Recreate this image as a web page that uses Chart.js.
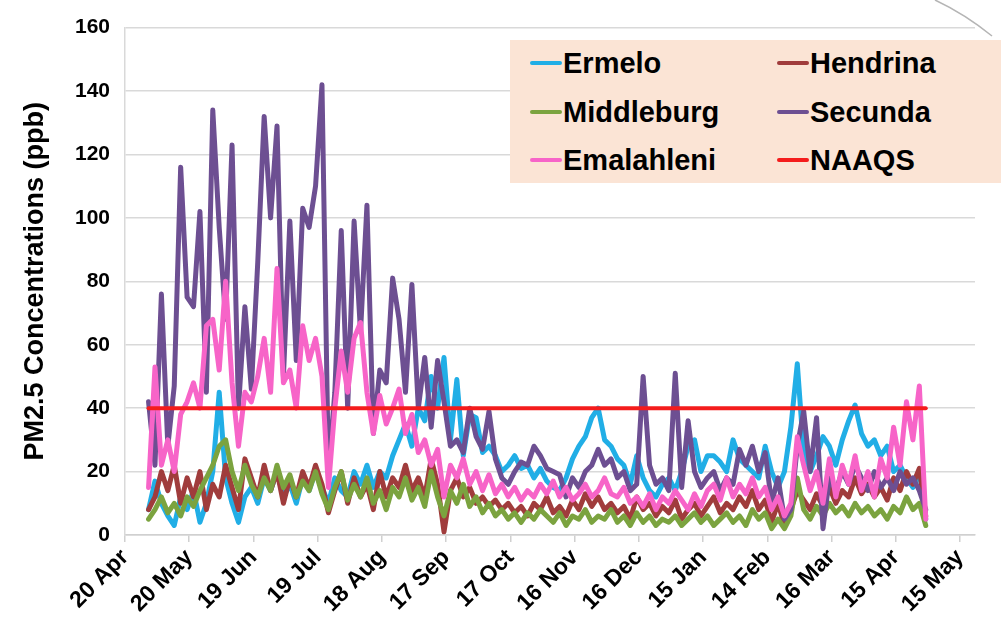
<!DOCTYPE html>
<html>
<head>
<meta charset="utf-8">
<script src="https://cdn.jsdelivr.net/npm/chart.js@4.4.1/dist/chart.umd.min.js"></script>
<style>
  html, body { margin: 0; padding: 0; background: #fff; }
  #wrap { position: relative; width: 1001px; height: 629px; overflow: hidden; }
  #chart { position: absolute; left: 0; top: 0; }
  #legend {
    position: absolute; left: 510px; top: 40px; width: 491px; height: 143px;
    background: #fbe4d5; color: #000;
    font: bold 29px "Liberation Sans", Arial, sans-serif;
  }
  .item { position: absolute; display: flex; align-items: center; height: 40px; white-space: nowrap; }
  .swatch { display: inline-block; width: 32px; height: 4px; margin-right: 1px; border-radius: 2px; }
  #corner { position: absolute; left: 0; top: 0; pointer-events: none; }
</style>
</head>
<body>
<div id="wrap">
  <canvas id="chart" width="1001" height="629"></canvas>
  <div id="legend"></div>
  <svg id="corner" width="1001" height="629"><path d="M935 0 Q965 14 992 36" fill="none" stroke="#b5b5b5" stroke-width="1.5"/></svg>
</div>
<script>
// x axis: days counted from 20 Apr, one labelled tick every 30 days
const tickDays = [0, 30, 60, 90, 120, 150, 180, 210, 240, 270, 300, 330, 360, 390];
const tickLabels = ['20 Apr', '20 May', '19 Jun', '19 Jul', '18 Aug', '17 Sep', '17 Oct',
                    '16 Nov', '16 Dec', '15 Jan', '14 Feb', '16 Mar', '15 Apr', '15 May'];

// readings start on 1 May (day 11) and are listed every 3 days
const startDay = 11;
const stepDays = 3;

// PM2.5 concentrations (ppb) per station
const ermelo = [
  8, 17, 10, 6, 3, 12, 8, 14, 4, 10,
  20, 45, 18, 10, 4, 12, 15, 10, 18, 14,
  20, 12, 16, 10, 18, 14, 20, 15, 10, 18,
  14, 12, 20, 16, 22, 15, 20, 18, 25, 30,
  35, 28, 40, 36, 50, 40, 56, 30, 49, 25,
  38, 37, 26, 28, 25, 20, 22, 25, 21, 22,
  18, 21, 17, 15, 14, 18, 24, 28, 31, 37,
  40, 30, 28, 24, 22, 16, 25, 18, 14, 12,
  16, 18, 14, 20, 28, 30, 20, 25, 25, 23,
  20, 30, 24, 22, 20, 18, 28, 20, 15, 20,
  34, 54, 26, 20, 25, 31, 28, 22, 30, 36,
  41, 32, 28, 30, 25, 28, 20, 22, 18, 15,
  20, 5
];
const hendrina = [
  8, 12, 20, 14, 22, 10, 18, 12, 20, 8,
  16, 12, 22, 15, 8, 24, 18, 12, 22, 14,
  20, 10, 18, 12, 20, 15, 22, 16, 7, 14,
  20, 10, 18, 12, 16, 8, 20, 12, 18, 15,
  22, 14, 18, 12, 24, 16, 1, 14, 18, 12,
  15, 10, 12, 9, 11, 8, 10, 7, 9, 6,
  10, 8, 12, 7, 9, 6, 11, 8, 13, 9,
  12, 8, 10, 7, 9, 5, 12, 8, 10, 6,
  9, 7, 11, 5, 8, 10, 6, 9, 12, 7,
  10, 8, 12, 9, 14, 8, 11, 4, 10, 3,
  8, 14, 11, 8, 13, 9, 15, 10, 14, 12,
  18, 13, 16, 12, 15, 11, 18, 14, 20, 16,
  21, 6
];
const middleburg = [
  5, 8, 12, 7, 10, 6, 12, 9, 14, 18,
  22, 28, 30, 20, 14, 22, 16, 12, 18, 14,
  22, 15, 19, 12, 17, 14, 20, 13, 8, 15,
  20, 11, 16, 12, 18, 10, 14, 8, 15, 12,
  18, 11, 15, 9, 20, 12, 6, 14, 10, 16,
  9, 12, 7, 10, 6, 8, 5, 7, 4, 7,
  5, 8, 6, 4, 7, 3, 6, 5, 8, 4,
  6, 5, 8, 4, 6, 3, 7, 4, 6, 3,
  5, 4, 6, 3, 5, 7, 4, 6, 3, 5,
  7, 4, 6, 3, 8, 5, 7, 2, 5, 2,
  6, 18, 8, 5, 9, 6, 10, 7, 9, 6,
  10, 7, 9, 6, 8, 5, 9, 7, 12, 8,
  10, 3
];
const secunda = [
  42, 22, 76, 28, 47, 116, 75, 72, 102, 45,
  134, 97, 68, 123, 40, 72, 46, 86, 132, 100,
  129, 50, 99, 55, 103, 97, 110, 142, 20, 45,
  96, 40, 99, 64, 104, 32, 52, 48, 81, 68,
  45, 79, 40, 56, 34, 55, 42, 28, 30, 26,
  40, 31, 27, 39, 24, 18, 16, 20, 23, 22,
  28, 25, 21, 20, 19, 12, 18, 15, 20, 22,
  27, 22, 24, 18, 20, 14, 16, 50, 22, 16,
  18, 14, 51, 15, 36, 20, 15, 18, 20, 14,
  18, 16, 27, 22, 28, 20, 26, 10, 18, 5,
  8, 28, 39, 20, 37, 2, 18, 14, 20, 16,
  22, 18, 14, 20, 15, 18, 14, 20, 16, 18,
  14, 8
];
const emalahleni = [
  15, 53, 22, 30, 20, 38, 42, 48, 40, 66,
  68, 52, 80, 48, 28, 45, 42, 50, 62, 45,
  84, 48, 52, 40, 66, 55, 62, 50, 15, 40,
  58, 45, 62, 67, 45, 32, 44, 35, 40, 46,
  32, 38, 26, 30, 22, 27, 12, 22, 18, 24,
  16, 20, 14, 19, 13, 16, 12, 15, 11, 14,
  12, 16, 13, 17, 12, 15, 11, 13, 16, 12,
  14, 18, 13, 12, 15, 10, 12, 9, 13, 8,
  12, 10, 14, 11, 8, 13, 9, 14, 16, 11,
  18, 12, 16, 13, 18, 12, 15, 8, 12, 6,
  10, 31, 22, 14, 20, 10, 24, 12, 22, 16,
  25, 14, 20, 12, 24, 18, 34, 22, 42, 30,
  47, 5
];
// national ambient air quality standard
const naaqsLimit = 40;

const FONT = '"Liberation Sans", Arial, sans-serif';

function toPoints(values) {
  return values.map((v, i) => ({ x: startDay + i * stepDays, y: v }));
}
const lastDay = startDay + (secunda.length - 1) * stepDays;

// lower "order" is painted later (on top)
const series = [
  { label: 'Ermelo',     data: toPoints(ermelo),     color: '#21aee6', order: 6, width: 5 },
  { label: 'Hendrina',   data: toPoints(hendrina),   color: '#a03c3c', order: 5, width: 5 },
  { label: 'Middleburg', data: toPoints(middleburg), color: '#7ba33f', order: 4, width: 5 },
  { label: 'Secunda',    data: toPoints(secunda),    color: '#6d4f92', order: 3, width: 5 },
  { label: 'Emalahleni', data: toPoints(emalahleni), color: '#f764c8', order: 2, width: 5 },
  { label: 'NAAQS',      data: [{ x: startDay, y: naaqsLimit }, { x: lastDay, y: naaqsLimit }], color: '#f41c1c', order: 1, width: 4 }
];

new Chart(document.getElementById('chart'), {
  type: 'line',
  data: {
    datasets: series.map(s => ({
      label: s.label, data: s.data, borderColor: s.color, backgroundColor: s.color,
      borderWidth: s.width, order: s.order, fill: false
    }))
  },
  options: {
    responsive: false,
    animation: false,
    devicePixelRatio: 1,
    layout: { padding: { top: 20, right: 26, bottom: 0, left: 0 } },
    plugins: { legend: { display: false }, tooltip: { enabled: false } },
    elements: {
      point: { radius: 0 },
      line: { tension: 0, borderJoinStyle: 'round', borderCapStyle: 'round' }
    },
    scales: {
      x: {
        type: 'linear', min: 0, max: 397,
        afterBuildTicks: s => { s.ticks = tickDays.map(v => ({ value: v })); },
        afterFit: s => { s.height = 94; },
        ticks: {
          autoSkip: false, maxRotation: 45, minRotation: 45, padding: 2, color: '#000',
          font: { family: FONT, size: 23, weight: 'bold' },
          callback: v => { const i = tickDays.indexOf(v); return i >= 0 ? tickLabels[i] : ''; }
        },
        grid: { drawOnChartArea: false, drawTicks: true, tickLength: 7, color: '#d0d0d0', lineWidth: 1.5 },
        border: { display: true, color: '#d0d0d0', width: 1.5 }
      },
      y: {
        min: 0, max: 160,
        afterFit: s => { s.width = 125; },
        ticks: { stepSize: 20, padding: 15, color: '#000', font: { family: FONT, size: 21, weight: 'bold' } },
        grid: { color: '#d9d9d9', lineWidth: 1.5, drawTicks: false },
        border: { display: true, color: '#d9d9d9', width: 1.5 },
        title: {
          display: true, text: 'PM2.5 Concentrations (ppb)', color: '#000',
          font: { family: FONT, size: 27, weight: 'bold' }, padding: { top: 19, bottom: 0 }
        }
      }
    }
  }
});

// two-column legend box drawn from the same series list
const legend = document.getElementById('legend');
const colX = [20, 267];
const rowTop = [3, 52, 100];
series.forEach((s, i) => {
  const el = document.createElement('div');
  el.className = 'item';
  el.style.left = colX[i % 2] + 'px';
  el.style.top = rowTop[Math.floor(i / 2)] + 'px';
  const sw = document.createElement('span');
  sw.className = 'swatch';
  sw.style.background = s.color;
  el.appendChild(sw);
  el.appendChild(document.createTextNode(s.label));
  legend.appendChild(el);
});
</script>
</body>
</html>
